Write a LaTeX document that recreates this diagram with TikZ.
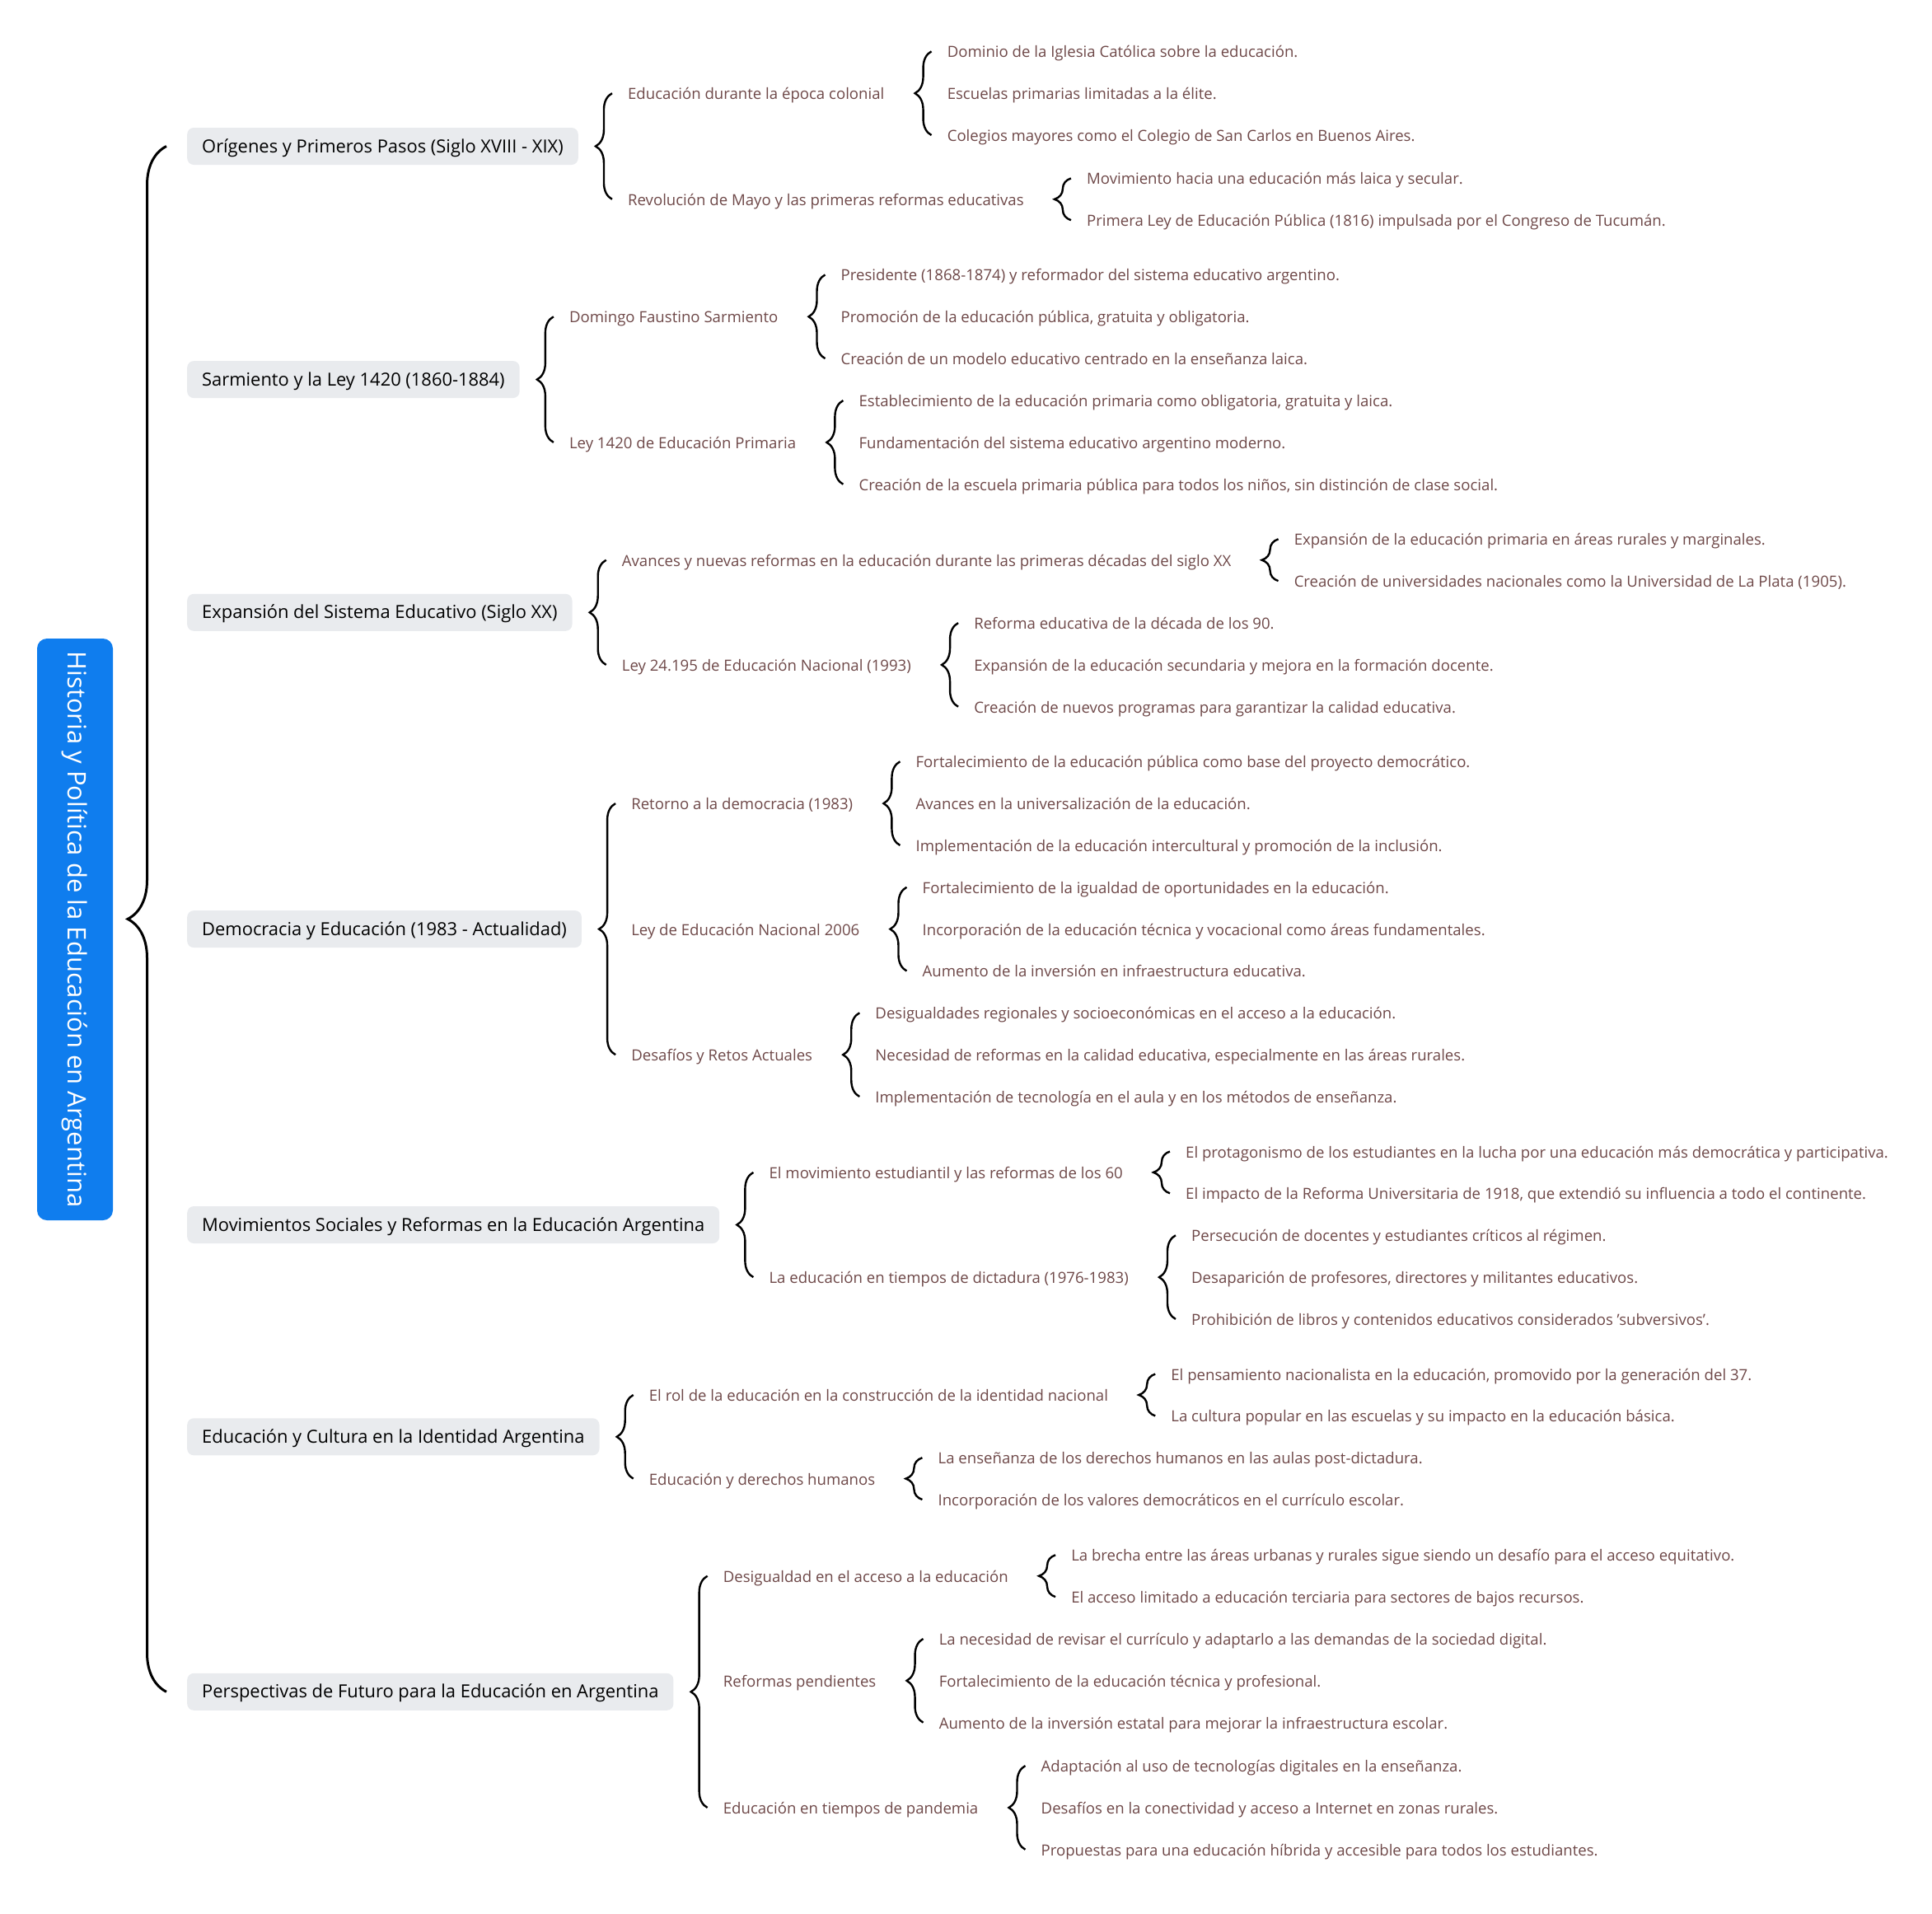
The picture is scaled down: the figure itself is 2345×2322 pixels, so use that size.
\documentclass[tikz,border=0pt]{standalone}
\usepackage{fontspec}
\setmainfont{Open Sans}
\usetikzlibrary{positioning, decorations.pathreplacing}
\definecolor{mapblue}{HTML}{0F7DEE}
\definecolor{boxgray}{HTML}{E9EBEE}
\definecolor{leafbrown}{HTML}{6E4848}

\begin{document}
\begin{tikzpicture}[
    x=1pt, y=1pt,
    every node/.style={font=\fontsize{18.6}{22}\selectfont},
    root/.style={rectangle, fill=mapblue, text=white, rounded corners=12pt, minimum width=706pt, minimum height=92pt, rotate=-90, font=\fontsize{31}{36}\selectfont},
    topic/.style={rectangle, fill=boxgray, rounded corners=8pt, minimum height=45pt, inner xsep=18pt, anchor=west, text height=18pt, text depth=3pt, font=\fontsize{21.9}{26}\selectfont},
    sub/.style={text=leafbrown, inner sep=0pt, text height=17pt, text depth=2pt},
    leaf/.style={sub},
    curly/.style={draw, line width=2.4pt, decorate, decoration={brace, amplitude=20pt}},
    rootcurly/.style={draw, line width=3pt, decorate, decoration={brace, amplitude=47pt}}
]
\useasboundingbox (0,0) rectangle (2345,-2322);

\node[root] (root) at (91,-1128) {Historia y Política de la Educación en Argentina};

% main topics
\node[topic] (t1) at (227,-177.5) {Orígenes y Primeros Pasos (Siglo XVIII - XIX)};
\node[topic] (t2) at (227,-460.6) {Sarmiento y la Ley 1420 (1860-1884)};
\node[topic] (t3) at (227,-743.3) {Expansión del Sistema Educativo (Siglo XX)};
\node[topic] (t4) at (227,-1127.6) {Democracia y Educación (1983 - Actualidad)};
\node[topic] (t5) at (227,-1486.5) {Movimientos Sociales y Reformas en la Educación Argentina};
\node[topic] (t6) at (227,-1743.8) {Educación y Cultura en la Identidad Argentina};
\node[topic] (t7) at (227,-2053.3) {Perspectivas de Futuro para la Educación en Argentina};

% Origenes
\node[sub, right=60pt of t1, yshift=64.3pt] (t1a) {Educación durante la época colonial};
\node[sub, right=60pt of t1, yshift=-64.3pt] (t1b) {Revolución de Mayo y las primeras reformas educativas};
\node[leaf, right=76pt of t1a, yshift=50.85pt] (t1a1) {Dominio de la Iglesia Católica sobre la educación.};
\node[leaf, right=76pt of t1a] (t1a2) {Escuelas primarias limitadas a la élite.};
\node[leaf, right=76pt of t1a, yshift=-50.85pt] (t1a3) {Colegios mayores como el Colegio de San Carlos en Buenos Aires.};
\node[leaf, right=76pt of t1b, yshift=25.4pt] (t1b1) {Movimiento hacia una educación más laica y secular.};
\node[leaf, right=76pt of t1b, yshift=-25.4pt] (t1b2) {Primera Ley de Educación Pública (1816) impulsada por el Congreso de Tucumán.};

% Sarmiento
\node[sub, right=60pt of t2, yshift=76.3pt] (t2a) {Domingo Faustino Sarmiento};
\node[sub, right=60pt of t2, yshift=-76.3pt] (t2b) {Ley 1420 de Educación Primaria};
\node[leaf, right=76pt of t2a, yshift=50.85pt] (t2a1) {Presidente (1868-1874) y reformador del sistema educativo argentino.};
\node[leaf, right=76pt of t2a] (t2a2) {Promoción de la educación pública, gratuita y obligatoria.};
\node[leaf, right=76pt of t2a, yshift=-50.85pt] (t2a3) {Creación de un modelo educativo centrado en la enseñanza laica.};
\node[leaf, right=76pt of t2b, yshift=50.85pt] (t2b1) {Establecimiento de la educación primaria como obligatoria, gratuita y laica.};
\node[leaf, right=76pt of t2b] (t2b2) {Fundamentación del sistema educativo argentino moderno.};
\node[leaf, right=76pt of t2b, yshift=-50.85pt] (t2b3) {Creación de la escuela primaria pública para todos los niños, sin distinción de clase social.};

% Expansion
\node[sub, right=60pt of t3, yshift=63.6pt] (t3a) {Avances y nuevas reformas en la educación durante las primeras décadas del siglo XX};
\node[sub, right=60pt of t3, yshift=-63.6pt] (t3b) {Ley 24.195 de Educación Nacional (1993)};
\node[leaf, right=76pt of t3a, yshift=25.4pt] (t3a1) {Expansión de la educación primaria en áreas rurales y marginales.};
\node[leaf, right=76pt of t3a, yshift=-25.4pt] (t3a2) {Creación de universidades nacionales como la Universidad de La Plata (1905).};
\node[leaf, right=76pt of t3b, yshift=50.85pt] (t3b1) {Reforma educativa de la década de los 90.};
\node[leaf, right=76pt of t3b] (t3b2) {Expansión de la educación secundaria y mejora en la formación docente.};
\node[leaf, right=76pt of t3b, yshift=-50.85pt] (t3b3) {Creación de nuevos programas para garantizar la calidad educativa.};

% Democracia
\node[sub, right=60pt of t4, yshift=152.5pt] (t4a) {Retorno a la democracia (1983)};
\node[sub, right=60pt of t4] (t4b) {Ley de Educación Nacional 2006};
\node[sub, right=60pt of t4, yshift=-152.5pt] (t4c) {Desafíos y Retos Actuales};
\node[leaf, right=76pt of t4a, yshift=50.85pt] (t4a1) {Fortalecimiento de la educación pública como base del proyecto democrático.};
\node[leaf, right=76pt of t4a] (t4a2) {Avances en la universalización de la educación.};
\node[leaf, right=76pt of t4a, yshift=-50.85pt] (t4a3) {Implementación de la educación intercultural y promoción de la inclusión.};
\node[leaf, right=76pt of t4b, yshift=50.85pt] (t4b1) {Fortalecimiento de la igualdad de oportunidades en la educación.};
\node[leaf, right=76pt of t4b] (t4b2) {Incorporación de la educación técnica y vocacional como áreas fundamentales.};
\node[leaf, right=76pt of t4b, yshift=-50.85pt] (t4b3) {Aumento de la inversión en infraestructura educativa.};
\node[leaf, right=76pt of t4c, yshift=50.85pt] (t4c1) {Desigualdades regionales y socioeconómicas en el acceso a la educación.};
\node[leaf, right=76pt of t4c] (t4c2) {Necesidad de reformas en la calidad educativa, especialmente en las áreas rurales.};
\node[leaf, right=76pt of t4c, yshift=-50.85pt] (t4c3) {Implementación de tecnología en el aula y en los métodos de enseñanza.};

% Movimientos
\node[sub, right=60pt of t5, yshift=63.6pt] (t5a) {El movimiento estudiantil y las reformas de los 60};
\node[sub, right=60pt of t5, yshift=-63.6pt] (t5b) {La educación en tiempos de dictadura (1976-1983)};
\node[leaf, right=76pt of t5a, yshift=25.4pt] (t5a1) {El protagonismo de los estudiantes en la lucha por una educación más democrática y participativa.};
\node[leaf, right=76pt of t5a, yshift=-25.4pt] (t5a2) {El impacto de la Reforma Universitaria de 1918, que extendió su influencia a todo el continente.};
\node[leaf, right=76pt of t5b, yshift=50.85pt] (t5b1) {Persecución de docentes y estudiantes críticos al régimen.};
\node[leaf, right=76pt of t5b] (t5b2) {Desaparición de profesores, directores y militantes educativos.};
\node[leaf, right=76pt of t5b, yshift=-50.85pt] (t5b3) {Prohibición de libros y contenidos educativos considerados 'subversivos'.};

% Identidad
\node[sub, right=60pt of t6, yshift=50.8pt] (t6a) {El rol de la educación en la construcción de la identidad nacional};
\node[sub, right=60pt of t6, yshift=-50.8pt] (t6b) {Educación y derechos humanos};
\node[leaf, right=76pt of t6a, yshift=25.4pt] (t6a1) {El pensamiento nacionalista en la educación, promovido por la generación del 37.};
\node[leaf, right=76pt of t6a, yshift=-25.4pt] (t6a2) {La cultura popular en las escuelas y su impacto en la educación básica.};
\node[leaf, right=76pt of t6b, yshift=25.4pt] (t6b1) {La enseñanza de los derechos humanos en las aulas post-dictadura.};
\node[leaf, right=76pt of t6b, yshift=-25.4pt] (t6b2) {Incorporación de los valores democráticos en el currículo escolar.};

% Perspectivas
\node[sub, right=60pt of t7, yshift=140.6pt] (t7a) {Desigualdad en el acceso a la educación};
\node[sub, right=60pt of t7, yshift=13.5pt] (t7b) {Reformas pendientes};
\node[sub, right=60pt of t7, yshift=-140.6pt] (t7c) {Educación en tiempos de pandemia};
\node[leaf, right=76pt of t7a, yshift=25.4pt] (t7a1) {La brecha entre las áreas urbanas y rurales sigue siendo un desafío para el acceso equitativo.};
\node[leaf, right=76pt of t7a, yshift=-25.4pt] (t7a2) {El acceso limitado a educación terciaria para sectores de bajos recursos.};
\node[leaf, right=76pt of t7b, yshift=50.85pt] (t7b1) {La necesidad de revisar el currículo y adaptarlo a las demandas de la sociedad digital.};
\node[leaf, right=76pt of t7b] (t7b2) {Fortalecimiento de la educación técnica y profesional.};
\node[leaf, right=76pt of t7b, yshift=-50.85pt] (t7b3) {Aumento de la inversión estatal para mejorar la infraestructura escolar.};
\node[leaf, right=76pt of t7c, yshift=50.85pt] (t7c1) {Adaptación al uso de tecnologías digitales en la enseñanza.};
\node[leaf, right=76pt of t7c] (t7c2) {Desafíos en la conectividad y acceso a Internet en zonas rurales.};
\node[leaf, right=76pt of t7c, yshift=-50.85pt] (t7c3) {Propuestas para una educación híbrida y accesible para todos los estudiantes.};

\draw[rootcurly] ([xshift=-25pt]t7.west) -- ([xshift=-25pt]t1.west);

\foreach \hi/\lo in {t1a/t1b, t1a1/t1a3, t1b1/t1b2,
    t2a/t2b, t2a1/t2a3, t2b1/t2b3,
    t3a/t3b, t3a1/t3a2, t3b1/t3b3,
    t4a/t4c, t4a1/t4a3, t4b1/t4b3, t4c1/t4c3,
    t5a/t5b, t5a1/t5a2, t5b1/t5b3,
    t6a/t6b, t6a1/t6a2, t6b1/t6b2,
    t7a/t7c, t7a1/t7a2, t7b1/t7b3, t7c1/t7c3} {
    \draw[curly] ([xshift=-19pt]\lo.west) -- ([xshift=-19pt]\hi.west);
}

\end{tikzpicture}
\end{document}
